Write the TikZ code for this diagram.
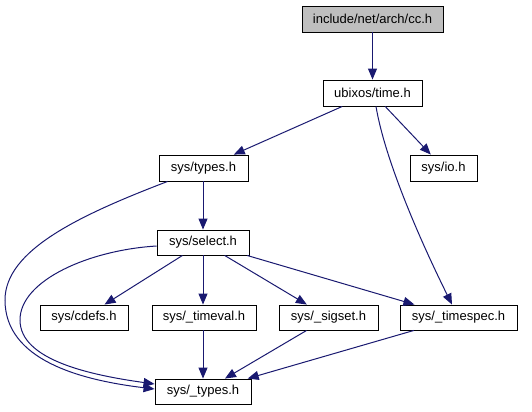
\documentclass[tikz,border=0pt]{standalone}
\usepackage{fontspec}
\setmainfont{Liberation Sans}
\usetikzlibrary{arrows.meta}
\definecolor{edgeblue}{HTML}{191970}
\definecolor{rootgray}{HTML}{BFBFBF}
\tikzset{
  filebox/.style={draw=black, line width=0.9bp, fill=white, minimum height=26bp, inner sep=0pt,
    font=\fontsize{13bp}{15bp}\selectfont, text=black},
  rootbox/.style={filebox, fill=rootgray},
  dep/.style={draw=edgeblue, line width=1bp, -{Triangle[length=11bp,width=9bp]}},
}
\begin{document}
\begin{tikzpicture}[x=1bp,y=-1bp]
\useasboundingbox (0,0) rectangle (532,411);
\node[rootbox, minimum width=141bp] (cc) at (372.5,19) {include/net/arch/cc.h};
\node[filebox, minimum width=99bp] (time) at (372.5,93) {ubixos/time.h};
\node[filebox, minimum width=89bp] (types) at (203.5,168) {sys/types.h};
\node[filebox, minimum width=67bp] (io) at (443.5,168) {sys/io.h};
\node[filebox, minimum width=92bp, minimum height=25bp] (select) at (203,242.5) {sys/select.h};
\node[filebox, minimum width=88bp, minimum height=25bp] (cdefs) at (84,317.5) {sys/cdefs.h};
\node[filebox, minimum width=104bp, minimum height=25bp] (timeval) at (204,317.5) {sys/\_timeval.h};
\node[filebox, minimum width=99bp, minimum height=25bp] (sigset) at (328.5,317.5) {sys/\_sigset.h};
\node[filebox, minimum width=117bp, minimum height=25bp] (timespec) at (458.5,317.5) {sys/\_timespec.h};
\node[filebox, minimum width=96bp, minimum height=25bp] (utypes) at (203,391.5) {sys/\_types.h};

\draw[dep] (cc) -- (time);
\draw[dep] (time) -- (types);
\draw[dep] (time) -- (io);
\draw[dep] ([xshift=3.5bp]time.south) .. controls (385,160) and (420,240) .. ([xshift=-6.5bp]timespec.north);
\draw[dep] ([xshift=9bp]types.south west) .. controls (80,215) and (5,250) .. (5,300) .. controls (5,360) and (80,380) .. ([yshift=2.5bp]utypes.west);
\draw[dep] ([xshift=-0.5bp]types.south) -- (select);
\draw[dep] ([yshift=-3.5bp]select.west) .. controls (90,250) and (20,280) .. (20,320) .. controls (20,360) and (90,375) .. ([yshift=7.5bp]utypes.west);
\draw[dep] (select) -- (cdefs);
\draw[dep] (select.south) -- (select.south |- timeval.north);
\draw[dep] (select) -- (sigset);
\draw[dep] (select) -- (timespec);
\draw[dep] (timeval.south -| utypes.north) -- (utypes.north);
\draw[dep] (sigset) -- (utypes);
\draw[dep] (timespec) -- (utypes);
\end{tikzpicture}
\end{document}
